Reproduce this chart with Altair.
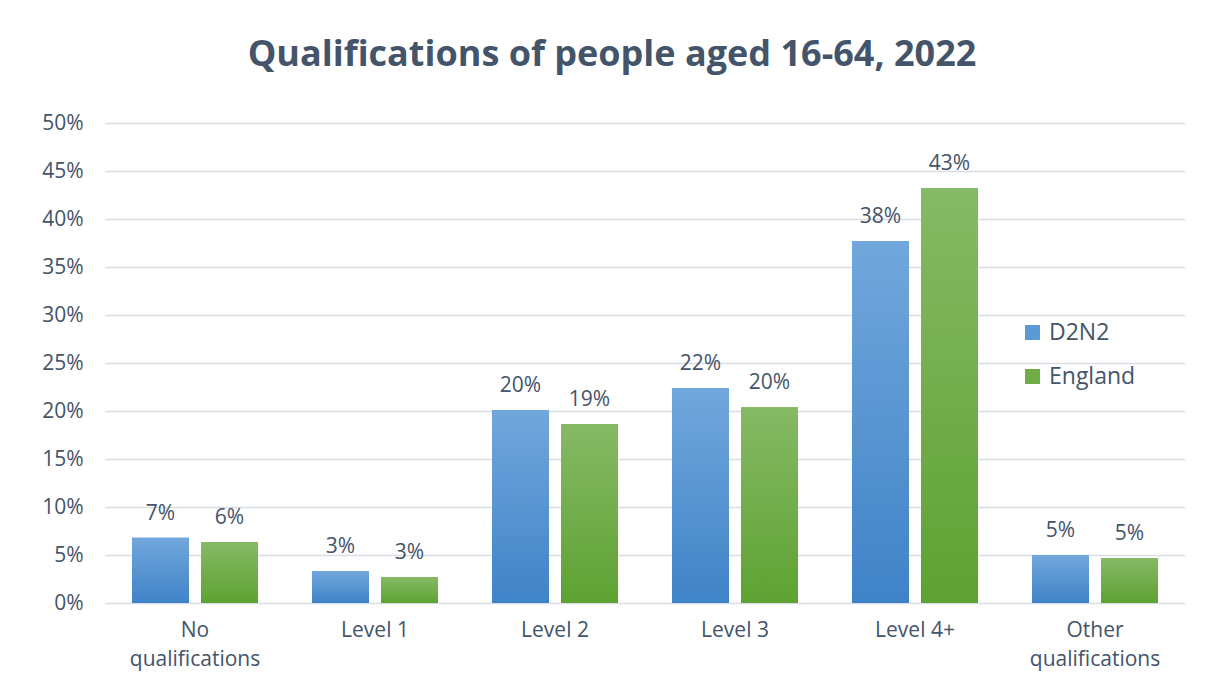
import altair as alt
import pandas as pd

categories = ["No qualifications", "Level 1", "Level 2", "Level 3", "Level 4+", "Other qualifications"]
series = ["D2N2", "England"]
d2n2 = [0.068, 0.033, 0.201, 0.224, 0.377, 0.050]
england = [0.0635, 0.027, 0.1865, 0.204, 0.432, 0.047]
y_ticks = [0.0, 0.05, 0.10, 0.15, 0.20, 0.25, 0.30, 0.35, 0.40, 0.45, 0.50]

rows = []
for c, a, b in zip(categories, d2n2, england):
    rows.append({"category": c, "series": "D2N2", "value": a})
    rows.append({"category": c, "series": "England", "value": b})
df = pd.DataFrame(rows)

TXT = "#44546a"
FONT = "Open Sans"
BLUE, GREEN = "#5b9bd5", "#70ad47"

blue_grad = alt.Gradient(gradient="linear", x1=0, x2=0, y1=0, y2=1,
                         stops=[alt.GradientStop(color="#72a7dc", offset=0),
                                alt.GradientStop(color="#3f83c7", offset=1)])
green_grad = alt.Gradient(gradient="linear", x1=0, x2=0, y1=0, y2=1,
                          stops=[alt.GradientStop(color="#86b965", offset=0),
                                 alt.GradientStop(color="#5ea232", offset=1)])

x_enc = alt.X("category:N", sort=categories, title=None,
              scale=alt.Scale(paddingInner=0.3, paddingOuter=0.15),
              axis=alt.Axis(labelAngle=0, domain=False, ticks=False, grid=False, labelPadding=16,
                            labelFontSize=21, labelFont=FONT, labelColor=TXT,
                            labelLineHeight=29, labelBaseline="top",
                            labelExpr="indexof(datum.label, 'qualifications') > 0 ? split(datum.label, ' ') : datum.label"))
xo_enc = alt.XOffset("series:N", sort=series, scale=alt.Scale(paddingInner=0.174, paddingOuter=0))
y_enc = alt.Y("value:Q", title=None,
              scale=alt.Scale(domain=[0, 0.5], nice=False),
              axis=alt.Axis(values=y_ticks, format=".0%", domain=False, ticks=False,
                            labelPadding=22, labelFontSize=21, labelFont=FONT, labelColor=TXT,
                            grid=True, gridColor="#d9dde3", gridWidth=1.6))

base = alt.Chart(df).encode(x=x_enc, xOffset=xo_enc, y=y_enc)

legend_bars = base.mark_bar().encode(
    color=alt.Color("series:N", sort=series, title=None,
                    scale=alt.Scale(domain=series, range=[BLUE, GREEN]),
                    legend=alt.Legend(orient="none", legendX=916, legendY=198,
                                      symbolType="square", symbolSize=225, symbolStrokeWidth=0,
                                      labelFontSize=23, labelFont=FONT, labelColor=TXT,
                                      rowPadding=20, labelOffset=5))
)
b1 = base.mark_bar(color=blue_grad).transform_filter(alt.datum.series == "D2N2")
b2 = base.mark_bar(color=green_grad).transform_filter(alt.datum.series == "England")
labels = base.mark_text(dy=-24, baseline="middle", fontSize=21, font=FONT, color=TXT).encode(
    text=alt.Text("value:Q", format=".0%"))

chart = alt.layer(legend_bars, b1, b2, labels).properties(
    width=1080, height=480,
    padding={"left": 97, "top": 115, "right": 10, "bottom": 70},
    autosize=alt.AutoSizeParams(type="none"),
    title=alt.TitleParams("Qualifications of people aged 16-64, 2022", fontSize=36,
                          fontWeight="bold", font=FONT, color=TXT, anchor="middle",
                          dx=-33, offset=38),
).configure(background="white").configure_view(strokeWidth=0, stroke="transparent")

chart.save("out.html", embed_options={"renderer": "svg", "actions": False})
